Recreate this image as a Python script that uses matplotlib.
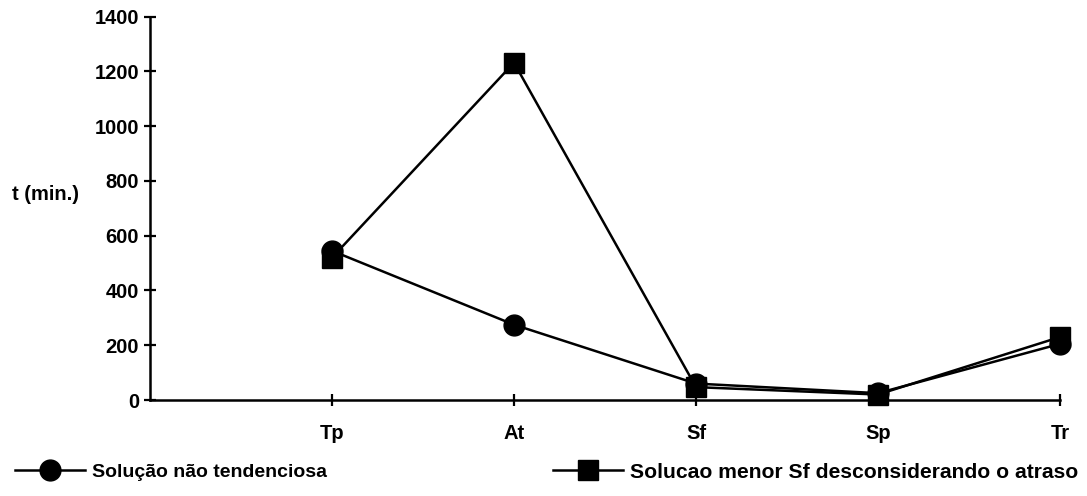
import matplotlib
matplotlib.use('Agg')
import matplotlib.pyplot as plt

plt.rcParams['font.family'] = ['Liberation Sans', 'DejaVu Sans']
plt.rcParams['font.weight'] = 'bold'

categories = ['Tp', 'At', 'Sf', 'Sp', 'Tr']
nao_tendenciosa = [545, 275, 60, 25, 205]
menor_sf = [520, 1232, 47, 20, 230]
yticks = [0, 200, 400, 600, 800, 1000, 1200, 1400]

fig = plt.figure(figsize=(10.87, 4.96), dpi=100)
ax = fig.add_axes([150 / 1087, 1 - 400 / 496, 910 / 1087, 383.3 / 496])

xs = list(range(1, len(categories) + 1))
l1, = ax.plot(xs, nao_tendenciosa, color='black', lw=1.8, marker='o',
              markersize=15, clip_on=False, zorder=3)
l2, = ax.plot(xs, menor_sf, color='black', lw=1.8, marker='s',
              markersize=14.5, clip_on=False, zorder=3)

ax.set_xlim(0, len(categories))
ax.set_ylim(0, 1400)
ax.set_xticks(xs)
ax.set_xticklabels(categories, fontsize=14.5, fontweight='bold')
ax.set_yticks(yticks)
ax.set_yticklabels([str(v) for v in yticks], fontsize=14.5, fontweight='bold')
ax.tick_params(direction='inout', length=8, width=1.6, pad=4)
ax.tick_params(axis='x', pad=13)

for s in ['top', 'right']:
    ax.spines[s].set_visible(False)
for s in ['left', 'bottom']:
    ax.spines[s].set_linewidth(1.8)

fig.text(45 / 1087, 1 - 195 / 496, 't (min.)', ha='center', va='center',
         fontsize=14.5, fontweight='bold')

leg1 = fig.legend([l1], ['Solução não tendenciosa'],
                  loc='center left', bbox_to_anchor=(-3 / 1087, 1 - 472 / 496),
                  frameon=False, handlelength=3.6, handletextpad=0.4,
                  prop={'size': 14, 'weight': 'bold'})
fig.legend([l2], ['Solucao menor Sf desconsiderando o atraso'],
           loc='center left', bbox_to_anchor=(534 / 1087, 1 - 472 / 496),
           frameon=False, handlelength=3.3, handletextpad=0.35,
           prop={'size': 15.2, 'weight': 'bold'})

fig.savefig('out.png', dpi=100)
